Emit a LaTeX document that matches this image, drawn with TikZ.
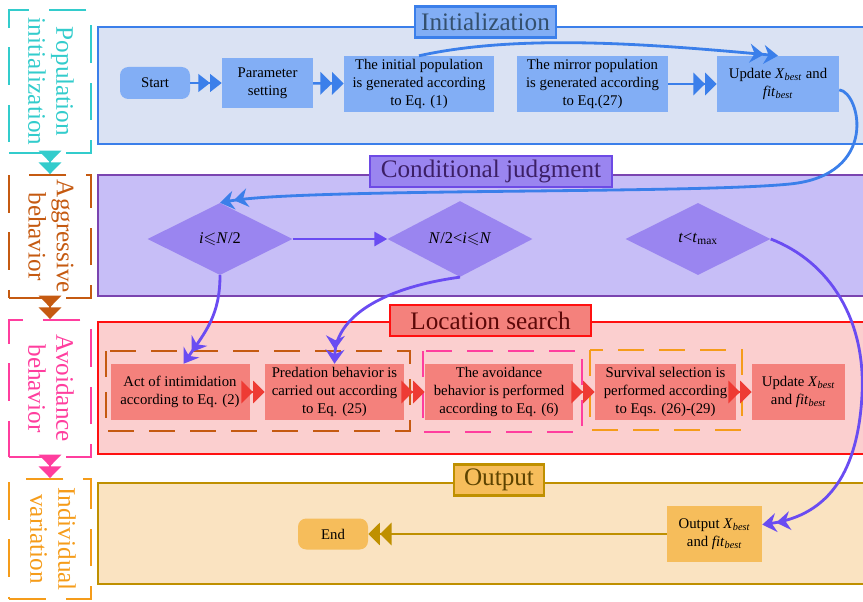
\documentclass[tikz,border=0pt]{standalone}
\usepackage{amssymb}
\usepackage{fontspec}
\setmainfont{Liberation Serif}
\usetikzlibrary{arrows.meta}
\usetikzlibrary{shapes.geometric}

\definecolor{initband}{HTML}{DAE2F3}
\definecolor{initln}{HTML}{3B7FEA}
\definecolor{initbox}{HTML}{82AEF5}
\definecolor{inittext}{HTML}{34506E}
\definecolor{condband}{HTML}{C7BEF7}
\definecolor{condln}{HTML}{7A44B0}
\definecolor{condbox}{HTML}{9A85F0}
\definecolor{condtext}{HTML}{3C1F66}
\definecolor{condarrow}{HTML}{6A4CF2}
\definecolor{locband}{HTML}{FBCFCF}
\definecolor{locln}{HTML}{FF1010}
\definecolor{locbox}{HTML}{F4817C}
\definecolor{loctext}{HTML}{5C0808}
\definecolor{locarrow}{HTML}{EE3B34}
\definecolor{outband}{HTML}{FAE3C1}
\definecolor{outln}{HTML}{BF9000}
\definecolor{outbox}{HTML}{F6BD5B}
\definecolor{outtext}{HTML}{5C4300}
\definecolor{popcol}{HTML}{33CCCC}
\definecolor{aggcol}{HTML}{C55A11}
\definecolor{avdcol}{HTML}{FF3E9E}
\definecolor{indcol}{HTML}{F59C1A}

\tikzset{
box/.style={align=center, inner sep=0pt, font=\fontsize{12.6}{15.4}\selectfont},
title/.style={draw, line width=2pt, inner sep=0pt, minimum height=9.3mm, font=\fontsize{21.5}{24}\selectfont},
side/.style={draw, line width=1.6pt, dash pattern=on 32pt off 17pt, minimum width=24.6mm},
sidetext/.style={rotate=-90, align=center, font=\fontsize{21.5}{24}\selectfont},
group/.style={line width=1.6pt, dash pattern=on 22pt off 13pt},
judge/.style={diamond, fill=condbox, inner sep=0pt, minimum width=43.5mm, minimum height=21.6mm, font=\fontsize{14}{16}\selectfont},
dbl/.style={line width=2.2pt, -{Triangle[length=10pt,width=15pt]Triangle[length=10pt,width=15pt]}},
dblbig/.style={line width=2.2pt, -{Triangle[length=10pt,width=19pt]Triangle[length=10pt,width=19pt]}},
curv/.style={line width=2.4pt, -{Stealth[length=12pt,width=16pt]Stealth[length=12pt,width=16pt]}}
}

\begin{document}
\begin{tikzpicture}[x=0.3mm, y=-0.3mm]
    
                \useasboundingbox (0,0) rectangle (863,601);
            
                \fill[initband] (98,27) rectangle (863,144);
                \draw[initln, line width=1.6pt] (863,27) -- (98,27) -- (98,144) -- (863,144);
                \fill[condband] (98,175) rectangle (863,296);
                \draw[condln, line width=1.6pt] (863,175) -- (98,175) -- (98,296) -- (863,296);
                \fill[locband] (98,322) rectangle (863,454);
                \draw[locln, line width=1.6pt] (863,322) -- (98,322) -- (98,454) -- (863,454);
                \fill[outband] (98,483) rectangle (863,584);
                \draw[outln, line width=1.6pt] (863,483) -- (98,483) -- (98,584) -- (863,584);
            
                \node[title, draw=initln, fill=initbox, text=inittext, minimum width=42.3mm] (tinit) at (485.5,22) {Initialization};
                \node[title, draw=condarrow!80!condln, fill=condbox, text=condtext, minimum width=72.6mm] (tcond) at (491,171.5) {Conditional judgment};
                \node[title, draw=locln, fill=locbox, text=loctext, minimum width=60.3mm] (tloc) at (490.5,320.5) {Location search};
                \node[title, draw=outln, fill=outbox, text=outtext, minimum width=27mm] (tout) at (499,480) {Output};
            
                \node[side, draw=popcol, minimum height=42.9mm] (pop) at (50,81.5) {};
                \node[sidetext, text=popcol] (poptxt) at (51,81.5) {Population\\initialization};
                \node[side, draw=aggcol, minimum height=36.9mm] (agg) at (50,236.5) {};
                \node[sidetext, text=aggcol] (aggtxt) at (51,236.5) {Aggressive\\behavior};
                \node[side, draw=avdcol, minimum height=41.1mm] (avd) at (50,388.5) {};
                \node[sidetext, text=avdcol] (avdtxt) at (51,388.5) {Avoidance\\behavior};
                \node[side, draw=indcol, minimum height=36mm] (ind) at (50,539) {};
                \node[sidetext, text=indcol] (indtxt) at (53,539) {Individual\\variation};
            
                \draw[dblbig, popcol] (pop.south) -- (agg.north);
                \draw[dblbig, aggcol] (agg.south) -- (avd.north);
                \draw[dblbig, avdcol] (avd.south) -- (ind.north);
            
                \node[box, fill=initbox, rounded corners=2.5mm, minimum width=21mm, minimum height=9.6mm] (start) at (155,83) {Start};
                \node[box, fill=initbox, minimum width=27.3mm, minimum height=15mm] (param) at (267.5,83) {Parameter\\setting};
                \node[box, fill=initbox, minimum width=45mm, minimum height=16.8mm] (initpop) at (419,84) {The initial population\\is generated according\\to Eq. (1)};
                \node[box, fill=initbox, minimum width=45.3mm, minimum height=16.8mm] (mirror) at (592.5,84) {The mirror population\\is generated according\\to Eq.(27)};
                \node[box, fill=initbox, minimum width=36.6mm, minimum height=16.8mm] (upd) at (778,84) {Update \textit{X}\textsubscript{\textit{best}} and\\\textit{fit}\textsubscript{\textit{best}}};
            
                \node[judge] (d1) at (220,239) {\textit{i}$\leqslant$\textit{N}/2};
                \node[judge] (d2) at (460,239) {\textit{N}/2<\textit{i}$\leqslant$\textit{N}};
                \node[judge] (d3) at (698,239) {\textit{t}<\textit{t}\textsubscript{max}};
            
                \draw[dbl, initln] (start) -- (param);
                \draw[dblbig, initln] (param) -- (initpop);
                \draw[dblbig, initln] (mirror) -- (upd);
                \draw[curv, initln] (initpop.north) .. controls +(100,-22) and +(-130,-12) .. (upd.north);
                \draw[curv, initln] ([yshift=-5pt]upd.east) .. controls (860,92) and (880,175) .. (790,184) .. controls (690,194) and (300,188) .. (d1.north);
            
                \draw[condarrow, line width=2.2pt, -{Triangle[length=11pt,width=12pt]}] (d1) -- (d2);
            
                \draw[group, aggcol] (106,351) rectangle (410,431);
                \draw[group, avdcol] (423,351) rectangle (582,432);
                \draw[group, indcol] (590,350) rectangle (742,430);
            
                \node[box, fill=locbox, minimum width=41.7mm, minimum height=16.8mm] (act) at (180,392) {Act of intimidation\\according to Eq. (2)};
                \node[box, fill=locbox, minimum width=41.7mm, minimum height=16.8mm] (pred) at (334.5,392) {Predation behavior is\\carried out according\\to Eq. (25)};
                \node[box, fill=locbox, minimum width=44.4mm, minimum height=16.8mm] (avoid) at (499,392) {The avoidance\\behavior is performed\\according to Eq. (6)};
                \node[box, fill=locbox, minimum width=42.3mm, minimum height=16.8mm] (surv) at (665.5,392) {Survival selection is\\performed according\\to Eqs. (26)-(29)};
                \node[box, fill=locbox, minimum width=27.9mm, minimum height=16.8mm] (upd2) at (798.5,392) {Update \textit{X}\textsubscript{\textit{best}}\\and \textit{fit}\textsubscript{\textit{best}}};
            
                \draw[dblbig, locarrow] (act) -- (pred);
                \draw[dblbig, locarrow] (pred) -- (avoid);
                \draw[dblbig, locarrow] (avoid) -- (surv);
                \draw[dblbig, locarrow] (surv) -- (upd2);
            
                \draw[curv, condarrow] (d1.south) .. controls +(0,40) and +(22,-32) .. ([xshift=3pt]act.north);
                \draw[curv, condarrow] (d2.south) .. controls (380,288) and (336,318) .. (pred.north);
            
                \node[box, fill=outbox, rounded corners=2.5mm, minimum width=21mm, minimum height=9.3mm] (endn) at (333,534) {End};
                \node[box, fill=outbox, minimum width=28.5mm, minimum height=16.8mm] (outn) at (714.5,534) {Output \textit{X}\textsubscript{\textit{best}}\\and \textit{fit}\textsubscript{\textit{best}}};
            
                \draw[dblbig, outln] (outn) -- (endn);
                \draw[curv, condarrow] (d3.east) .. controls (830,262) and (866,320) .. (862,395) .. controls (858,470) and (830,515) .. ([yshift=8pt]outn.east);
        
\end{tikzpicture}
\end{document}
